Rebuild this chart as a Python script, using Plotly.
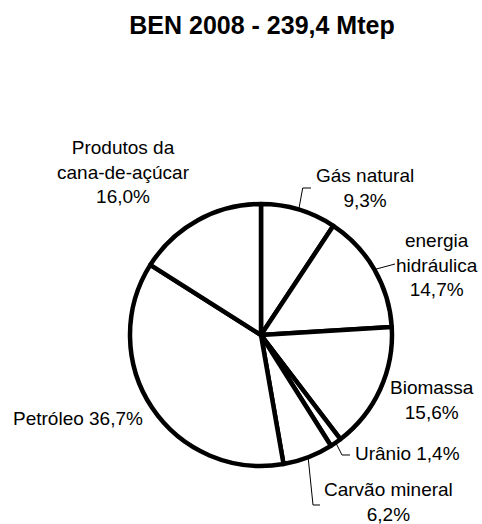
import math
import plotly.graph_objects as go

# ---- data ----
categories = ["Gás natural", "energia hidráulica", "Biomassa", "Urânio",
              "Carvão mineral", "Petróleo", "Produtos da cana-de-açúcar"]
shares = [9.3, 14.7, 15.6, 1.4, 6.2, 36.7, 16.0]
label_names = ["Gás natural<br>", "energia<br>hidráulica<br>", "Biomassa<br>",
               "Urânio ", "Carvão mineral<br>", "Petróleo ",
               "Produtos da<br>cana-de-açúcar<br>"]
title_text = "BEN 2008 - 239,4 Mtep"

# ---- layout geometry (pixels) ----
W, H = 482, 524
CX, CY, R = 261, 335, 131
label_pos = [(365, 188), (437, 265), (432, 400), (407, 453),
             (388, 502), (78, 418), (124, 172)]
# leader: (elbow or None, end) per category, None = no leader
leaders = [((302.7, 188), (311, 188)), (None, (395, 264)), None,
           ((342, 455), (350, 455)), ((313, 505), (320, 505)), None, None]


def X(px):
    return px / W


def Y(py):
    return 1 - py / H


fig = go.Figure(go.Pie(
    labels=categories, values=shares, sort=False, direction="clockwise",
    rotation=0, textinfo="none", hoverinfo="label+percent",
    marker=dict(colors=["white"] * len(shares), line=dict(color="black", width=4.5)),
    domain=dict(x=[X(CX - R), X(CX + R)], y=[Y(CY + R), Y(CY - R)]),
    showlegend=False,
))

total = sum(shares)
cum = 0.0
annotations = []
shapes = []
for name, v, pos, ld in zip(label_names, shares, label_pos, leaders):
    mid = (cum + v / 2) / total * 2 * math.pi
    cum += v
    txt = name + f"{v:.1f}".replace(".", ",") + "%"
    annotations.append(dict(
        x=X(pos[0]), y=Y(pos[1]), xref="paper", yref="paper", text=txt,
        showarrow=False, xanchor="center", yanchor="middle", align="center",
        font=dict(family="Liberation Sans, Arial", size=19, color="black")))
    if ld is not None:
        sx, sy = CX + R * math.sin(mid), CY - R * math.cos(mid)
        pts = [(sx, sy)] + ([ld[0]] if ld[0] else []) + [ld[1]]
        path = "M " + " L ".join(f"{X(a):.5f},{Y(b):.5f}" for a, b in pts)
        shapes.append(dict(type="path", path=path, xref="paper", yref="paper",
                           line=dict(color="black", width=1)))

fig.update_layout(
    width=W, height=H, margin=dict(l=0, r=0, t=0, b=0),
    paper_bgcolor="white", plot_bgcolor="white",
    title=dict(text="<b>" + title_text + "</b>", x=X(262), y=Y(25),
               xanchor="center", yanchor="middle",
               font=dict(family="Liberation Sans, Arial", size=25, color="black")),
    annotations=annotations, shapes=shapes,
)

fig.write_html("out.html", config={"displayModeBar": False},
               post_script="document.body.style.margin='0';")
